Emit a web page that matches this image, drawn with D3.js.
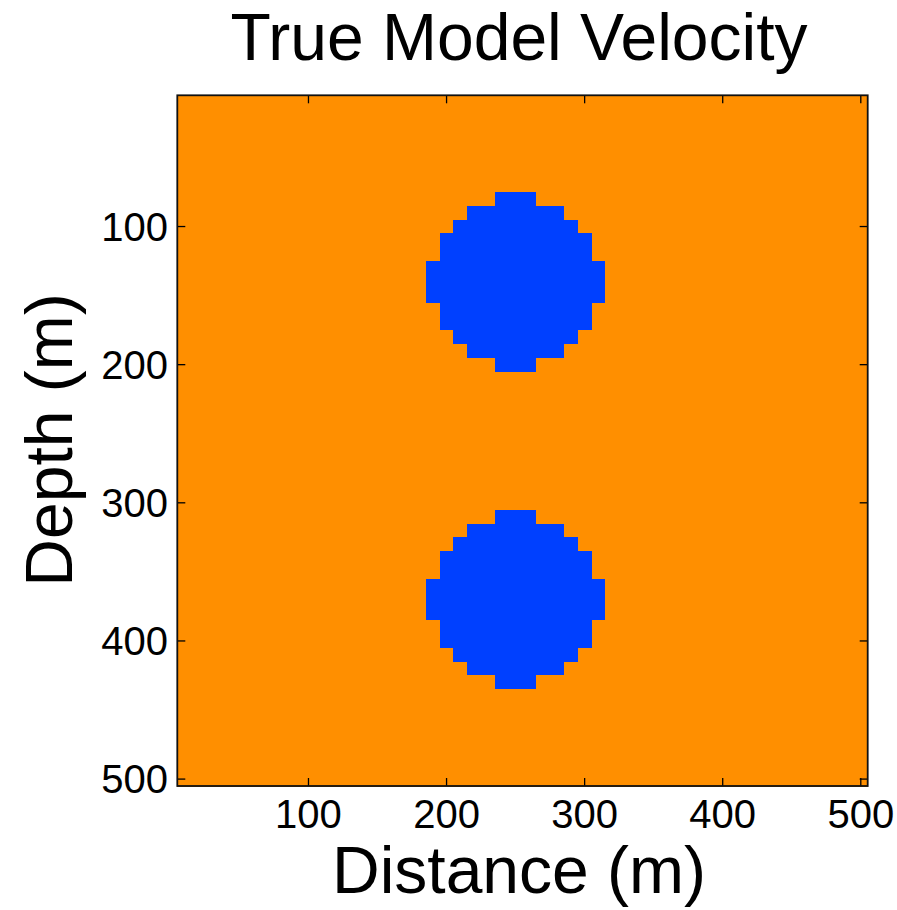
<!DOCTYPE html>
<html>
<head>
<meta charset="utf-8">
<script src="https://cdn.jsdelivr.net/npm/d3@7"></script>
<style>
  html, body { margin: 0; padding: 0; background: #fff; }
  svg { display: block; }
  text { font-family: "Liberation Sans", Arial, Helvetica, sans-serif; fill: #000; }
</style>
</head>
<body>
<svg id="chart" width="897" height="910"></svg>
<script>
// ---- data ----
// grid cell centres (m), 10 m cells
const distanceCenters = [10,20,30,40,50,60,70,80,90,100,110,120,130,140,150,160,170,180,190,200,
  210,220,230,240,250,260,270,280,290,300,310,320,330,340,350,360,370,380,390,400,
  410,420,430,440,450,460,470,480,490,500];
const depthCenters = distanceCenters.slice();
// rows of the low-velocity anomalies: depth centre, first and last distance centre
const anomalyDepths = [80,90,100,110,120,130,140,150,160,170,180,190,200,
                       310,320,330,340,350,360,370,380,390,400,410,420,430];
const anomalyStart  = [240,220,210,200,200,190,190,190,200,200,210,220,240,
                       240,220,210,200,200,190,190,190,200,200,210,220,240];
const anomalyEnd    = [260,280,290,300,300,310,310,310,300,300,290,280,260,
                       260,280,290,300,300,310,310,310,300,300,290,280,260];
const materials = ["background", "anomaly"];
const materialColors = ["#FF8F00", "#0040FF"];
const xTicks = [100, 200, 300, 400, 500];
const yTicks = [100, 200, 300, 400, 500];
const titleText = "True Model Velocity";
const xLabel = "Distance (m)";
const yLabel = "Depth (m)";

// ---- build the model table ----
const cells = [];
depthCenters.forEach(z => {
  const r = anomalyDepths.indexOf(z);
  distanceCenters.forEach(x => {
    const inside = r >= 0 && x >= anomalyStart[r] && x <= anomalyEnd[r];
    cells.push({ x, z, m: inside ? "anomaly" : "background" });
  });
});

// ---- layout ----
const svg = d3.select("#chart");
const L = 177.3, R = 867.7, T = 95.3, B = 786;
const half = 5;
const x = d3.scaleLinear().domain([5, 505]).range([L, R]);
const y = d3.scaleLinear().domain([5, 505]).range([T, B]);
const color = d3.scaleOrdinal().domain(materials).range(materialColors);

svg.append("g")
  .attr("shape-rendering", "crispEdges")
  .selectAll("rect")
  .data(cells)
  .join("rect")
  .attr("x", d => x(d.x - half))
  .attr("y", d => y(d.z - half))
  .attr("width", d => x(d.x + half) - x(d.x - half) + 0.5)
  .attr("height", d => y(d.z + half) - y(d.z - half) + 0.5)
  .attr("fill", d => color(d.m));

// ticks (inward, all four sides)
const tickLen = 8;
const tg = svg.append("g").attr("stroke", "#000").attr("stroke-width", 1.3);
xTicks.forEach(t => {
  tg.append("line").attr("x1", x(t)).attr("x2", x(t)).attr("y1", B).attr("y2", B - tickLen);
  tg.append("line").attr("x1", x(t)).attr("x2", x(t)).attr("y1", T).attr("y2", T + tickLen);
});
yTicks.forEach(t => {
  tg.append("line").attr("y1", y(t)).attr("y2", y(t)).attr("x1", L).attr("x2", L + tickLen);
  tg.append("line").attr("y1", y(t)).attr("y2", y(t)).attr("x1", R).attr("x2", R - tickLen);
});

// frame
svg.append("rect")
  .attr("x", L).attr("y", T).attr("width", R - L).attr("height", B - T)
  .attr("fill", "none").attr("stroke", "#111").attr("stroke-width", 1.8);

// tick labels
svg.append("g").selectAll("text").data(xTicks).join("text")
  .attr("x", d => x(d)).attr("y", 828)
  .attr("text-anchor", "middle")
  .attr("font-size", 40)
  .text(d => d);
svg.append("g").selectAll("text").data(yTicks).join("text")
  .attr("x", 168).attr("y", d => y(d) + 14.4)
  .attr("text-anchor", "end")
  .attr("font-size", 40)
  .text(d => d);

// title and axis labels
svg.append("text").attr("x", 519).attr("y", 60)
  .attr("text-anchor", "middle").attr("font-size", 66).text(titleText);
svg.append("text").attr("x", 519).attr("y", 893)
  .attr("text-anchor", "middle").attr("font-size", 66).text(xLabel);
svg.append("text")
  .attr("transform", "translate(71.7,440) rotate(-90)")
  .attr("text-anchor", "middle").attr("font-size", 66).text(yLabel);
</script>
</body>
</html>
